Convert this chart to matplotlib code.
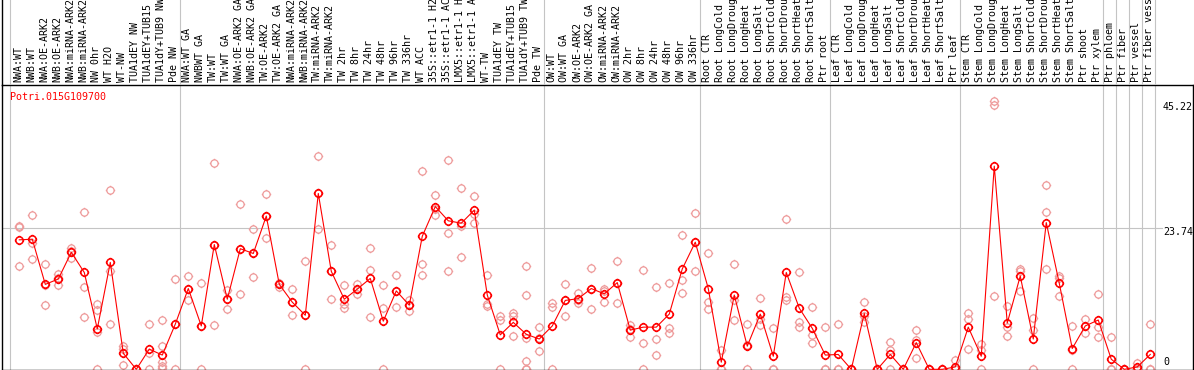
import matplotlib
matplotlib.use("Agg")
import matplotlib.pyplot as plt
import matplotlib.transforms as mtransforms
from matplotlib.path import Path

# ---------------- data ----------------
title = "Potri.015G109700"

labels = [
    "NWA:WT", "NWB:WT", "NWA:OE-ARK2", "NWB:OE-ARK2", "NWA:miRNA-ARK2", "NWB:miRNA-ARK2",
    "NW 0hr", "WT H2O", "WT-NW", "TUA1dEY NW", "TUA1dEY+TUB15 NW", "TUA1dY+TUB9 NW", "Pde NW",
    "NWA:WT GA", "NWBWT GA", "TW:WT", "TW:WT GA", "NWA:OE-ARK2 GA", "NWB:OE-ARK2 GA",
    "TW:OE-ARK2", "TW:OE-ARK2 GA", "NWA:miRNA-ARK2", "NWB:miRNA-ARK2", "TW:miRNA-ARK2",
    "TW:miRNA-ARK2", "TW 2hr", "TW 8hr", "TW 24hr", "TW 48hr", "TW 96hr", "TW 336hr",
    "WT ACC", "35S::etr1-1 H2O", "35S::etr1-1 ACC", "LMX5::etr1-1 H2O", "LMX5::etr1-1 ACC",
    "WT-TW", "TUA1dEY TW", "TUA1dEY+TUB15 TW", "TUA1dY+TUB9 TW", "Pde TW",
    "OW:WT", "OW:WT GA", "OW:OE-ARK2", "OW:OE-ARK2 GA", "OW:miRNA-ARK2", "OW:miRNA-ARK2",
    "OW 2hr", "OW 8hr", "OW 24hr", "OW 48hr", "OW 96hr", "OW 336hr",
    "Root CTR", "Root LongCold", "Root LongDrought", "Root LongHeat", "Root LongSalt",
    "Root ShortCold", "Root ShortDrought", "Root ShortHeat", "Root ShortSalt", "Ptr root",
    "Leaf CTR", "Leaf LongCold", "Leaf LongDrought", "Leaf LongHeat", "Leaf LongSalt",
    "Leaf ShortCold", "Leaf ShortDrought", "Leaf ShortHeat", "Leaf ShortSalt", "Ptr leaf",
    "Stem CTR", "Stem LongCold", "Stem LongDrought", "Stem LongHeat", "Stem LongSalt",
    "Stem ShortCold", "Stem ShortDrought", "Stem ShortHeat", "Stem ShortSalt", "Ptr shoot",
    "Ptr xylem", "Ptr phloem", "Ptr fiber", "Ptr vessel", "Ptr fiber vessel",
]

# number of samples in each vertical-gridline-separated block
group_sizes = [13, 28, 12, 10, 10, 11, 1, 1, 1, 1]

means = [
    21.8, 21.9, 14.3, 15.2, 19.7, 16.3, 6.8, 18.0, 2.7, 0.0, 3.4, 2.4, 7.6,
    13.6, 7.3, 21.0, 11.8, 20.3, 19.5, 25.8, 14.3, 11.3, 9.1, 29.6, 16.5, 11.8, 13.5,
    15.3, 8.1, 13.2, 10.8, 22.4, 27.4, 25.0, 24.6, 26.8, 12.5, 5.8, 7.9, 5.9, 5.1,
    7.3, 11.6, 11.9, 13.6, 12.7, 14.6, 6.6, 7.1, 7.1, 9.3, 16.9, 21.4,
    13.6, 1.2, 12.5, 3.9, 9.3, 2.2, 16.3, 10.3, 6.9, 2.4,
    2.5, 0.0, 9.4, 0.0, 2.5, 0.0, 4.5, 0.0, 0.0, 0.4,
    7.1, 2.2, 34.2, 7.8, 15.7, 5.1, 24.7, 14.5, 3.5, 7.3, 8.3,
    1.7, 0.0, 0.4, 2.5,
]

replicates = [
    [24.1, 23.9, 17.4], [25.9, 21.2, 18.5], [17.8, 14.2, 10.8], [16.0, 15.3, 14.2],
    [20.5, 19.9, 18.7], [26.4, 13.8, 8.8], [11.0, 10.0, 6.2, 0.0], [30.2, 16.5, 7.6],
    [3.9, 3.5, 0.7], [0.0, 0.0, 0.0], [7.6, 2.7, 0.0], [8.3, 3.9, 1.2, 0.6, 0.2],
    [15.2, 7.6, 0.0],
    [15.7, 13.6, 11.7], [14.6, 7.3, 0.0], [34.7, 21.0, 7.5], [13.3, 11.8, 10.1],
    [27.8, 20.3, 12.7], [23.6, 19.5, 15.5], [29.5, 25.8, 22.1], [14.6, 14.3, 13.9],
    [13.5, 11.3, 9.1], [18.2, 9.1, 0.0], [35.9, 29.6, 23.6], [21.0, 16.5, 11.8],
    [14.2, 11.0, 10.3], [14.4, 13.5, 12.6], [20.5, 16.7, 8.8], [14.2, 10.3, 0.0],
    [15.9, 13.2, 10.5], [11.7, 10.8, 9.9], [33.4, 17.8, 15.8], [29.3, 27.0, 26.0],
    [35.2, 22.9, 16.5], [30.5, 24.1, 18.9], [29.1, 26.1, 24.7], [15.8, 11.0, 10.7],
    [9.0, 8.3, 0.0], [9.4, 8.9, 5.6], [17.4, 12.5, 5.3, 1.4, 0.0, 0.0], [7.1, 5.2, 3.0],
    [11.2, 10.5, 0.0], [14.4, 11.6, 8.9], [12.9, 11.6, 11.2], [17.1, 13.6, 10.1],
    [13.6, 13.1, 11.4], [18.2, 14.5, 11.1], [7.5, 6.8, 5.5], [16.8, 4.4, 0.0],
    [13.8, 5.1, 2.4], [14.6, 6.9, 6.1], [22.6, 15.0, 12.8], [26.3, 21.4, 16.5],
    [19.5, 11.3, 10.1], [3.2, 0.0, 0.0], [17.7, 11.7, 8.3], [7.6, 4.1, 0.0],
    [12.0, 8.4, 7.5], [6.9, 0.0, 0.0], [25.3, 12.2, 11.7], [16.3, 8.0, 7.2],
    [10.5, 5.8, 4.4], [7.1, 0.0, 0.0],
    [7.7, 0.0, 0.0], [0.0, 0.0, 0.0], [11.3, 8.9, 8.0], [0.0, 0.0, 0.0],
    [4.6, 3.2, 0.0], [0.0, 0.0, 0.0], [6.6, 4.9, 1.9], [0.0, 0.0, 0.0],
    [0.0, 0.0, 0.0], [1.6, 0.0, 0.0],
    [9.4, 8.4, 3.5], [4.3, 3.2, 0.0], [45.22, 44.5, 12.3], [10.7, 7.2, 5.6],
    [16.9, 16.6, 13.2], [8.6, 6.6, 0.0], [31.1, 26.4, 16.9], [15.7, 15.4, 12.3],
    [7.3, 3.3, 0.0], [8.5, 7.3, 6.1], [12.7, 7.2, 5.5],
    [5.4, 0.0, 0.0], [0.0, 0.0, 0.0], [1.0, 0.0, 0.0], [7.6, 0.0, 0.0],
]

ytick_values = [0, 23.74, 45.22]
ytick_labels = ["0", "23.74", "45.22"]

# ---------------- style ----------------
W, H = 1194, 370
RED = "#FF0000"
PALE = "#EE9A9A"
GRID = "#C4C4C4"
FONT = "DejaVu Sans Mono"
FS = 7.2

plt.rcParams["font.family"] = [FONT]

fig = plt.figure(figsize=(W / 100, H / 100), dpi=100)

# pixel layout
left_px, right_px = 1.5, 1192.5
sep_px = 85.0          # separator line between labels and plot (from top)
bottom_px = 369.5

ax = fig.add_axes([left_px / W, (H - bottom_px) / H,
                   (right_px - left_px) / W, (bottom_px - sep_px) / H])
axl = fig.add_axes([left_px / W, (H - sep_px) / H,
                    (right_px - left_px) / W, sep_px / H])

xlim = (-1.369, 90.25)
ax.set_xlim(*xlim)
ax.set_ylim(-0.03, 47.86)
axl.set_xlim(*xlim)
axl.set_ylim(0, 1)

for a in (ax, axl):
    a.set_xticks([])
    a.set_yticks([])
    a.patch.set_alpha(0)

for s in ax.spines.values():
    s.set_color("black")
    s.set_linewidth(1.0)
for name in ("top", "right", "bottom"):
    axl.spines[name].set_visible(False)
axl.spines["left"].set_color("black")
axl.spines["left"].set_linewidth(1.0)

# group separators (vertical gray lines through both panels)
bounds = [-0.7]
acc = 0
for g in group_sizes:
    acc += g
    bounds.append(acc - 0.6)
for b in bounds:
    ax.axvline(b, color=GRID, lw=0.8, zorder=0)
    axl.axvline(b, color=GRID, lw=0.8, zorder=0)

# horizontal reference line at middle tick
label_x_axes = (1163 - left_px) / (right_px - left_px)
ax.axhline(ytick_values[1], xmin=0, xmax=label_x_axes - 0.001, color=GRID, lw=0.8, zorder=0)

# custom marker: ring with four short ticks
circ = Path.unit_circle()
r1, r2 = 1.0, 1.3
tick_verts = [(0, r1), (0, r2), (0, -r1), (0, -r2), (r1, 0), (r2, 0), (-r1, 0), (-r2, 0)]
tick_codes = [Path.MOVETO, Path.LINETO] * 4
ring = Path.make_compound_path(circ, Path(tick_verts, tick_codes))

x = list(range(len(labels)))

# replicate points
rx, ry = [], []
for i, reps in enumerate(replicates):
    for v in reps:
        rx.append(i)
        ry.append(v)
ax.plot(rx, ry, linestyle="none", marker=ring, markersize=6.8,
        markerfacecolor="none", markeredgecolor=PALE, markeredgewidth=0.9, zorder=2)

# mean line
ax.plot(x, means, color=RED, lw=0.8, zorder=3,
        marker=ring, markersize=6.8, markerfacecolor="none",
        markeredgecolor=RED, markeredgewidth=1.15)

# y labels on the right (inside the frame)
offsets = {0: -7.3, 1: 3.7, 2: 6.3}
for k, (v, t) in enumerate(zip(ytick_values, ytick_labels)):
    trans = mtransforms.blended_transform_factory(ax.transAxes, ax.transData)
    trans = mtransforms.offset_copy(trans, fig=fig, x=0, y=-offsets[k], units="dots")
    ax.text(label_x_axes, v, t, transform=trans, ha="left", va="center",
            fontsize=FS, color="black", clip_on=False)

# sample labels (vertical)
ltrans = mtransforms.blended_transform_factory(axl.transData, axl.transAxes)
for i, lab in enumerate(labels):
    axl.text(i - 0.08, 2.5 / sep_px, lab, rotation=90, ha="center", va="bottom",
             fontsize=FS, color="black", transform=ltrans, clip_on=False)

# title
fig.text(10 / W, 1 - 97 / H, title, color=RED, fontsize=FS, ha="left", va="center")

fig.savefig("out.png", dpi=100)
